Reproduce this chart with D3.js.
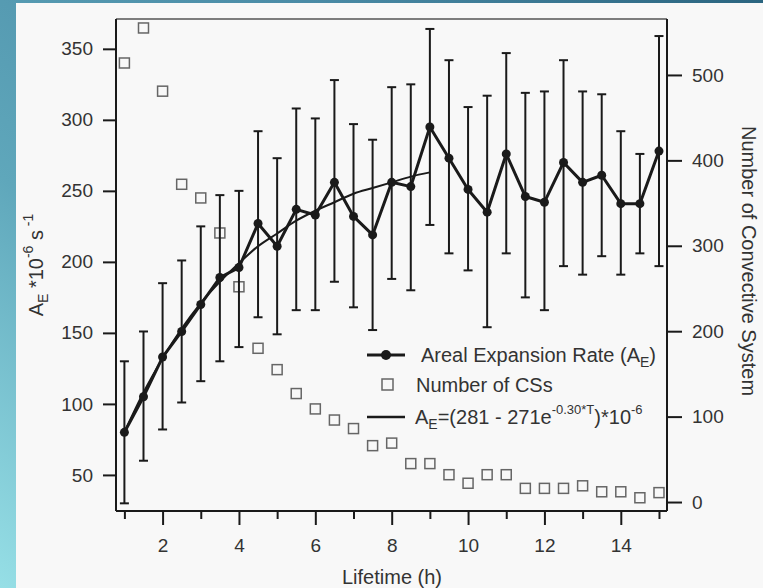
<!DOCTYPE html>
<html>
<head>
<meta charset="utf-8">
<script src="https://cdn.jsdelivr.net/npm/d3@7"></script>
<style>
  body { margin: 0; background: #fff; }
  svg { display: block; font-family: "Liberation Sans", Arial, sans-serif; }
</style>
</head>
<body>
<div id="chart"></div>
<script>
// 数据
const hours = [1, 1.5, 2, 2.5, 3, 3.5, 4, 4.5, 5, 5.5, 6, 6.5, 7, 7.5, 8, 8.5, 9, 9.5, 10, 10.5, 11, 11.5, 12, 12.5, 13, 13.5, 14, 14.5, 15];
const aeMean = [80, 105, 133, 151, 170, 189, 196, 227, 211, 237, 233, 256, 232, 219, 256, 253, 295, 273, 251, 235, 276, 246, 242, 270, 256, 261, 241, 241, 278];
const aeHigh = [130, 151, 185, 201, 225, 247, 250, 292, 273, 308, 301, 328, 297, 286, 323, 325, 364, 342, 309, 317, 347, 319, 320, 342, 320, 318, 292, 276, 359];
const aeLow = [30, 60, 82, 101, 116, 130, 140, 161, 149, 166, 166, 186, 168, 152, 188, 180, 226, 206, 194, 154, 206, 175, 166, 197, 191, 204, 191, 206, 197];
const csCount = [514, 555, 481, 372, 356, 315, 252, 180, 155, 127, 109, 96, 86, 66, 69, 45, 45, 32, 22, 32, 32, 16, 16, 16, 19, 12, 12, 5, 11];

// 拟合曲线
const fitHours = [1, 1.5, 2, 2.5, 3, 3.5, 4, 4.5, 5, 5.5, 6, 6.5, 7, 7.5, 8, 8.5, 9];
const fitValues = [80, 108, 132, 153, 171, 186, 199, 211, 220, 229, 236, 242, 248, 252, 256, 260, 263];

// 刻度
const xMajorTicks = [2, 4, 6, 8, 10, 12, 14];
const xMinorTicks = [1, 3, 5, 7, 9, 11, 13, 15];
const yLeftTicks = [50, 100, 150, 200, 250, 300, 350];
const yRightTicks = [0, 100, 200, 300, 400, 500];

const width = 763, height = 588;
const plot = { left: 116, right: 667, top: 19, bottom: 511 };

const svg = d3.select('#chart').append('svg')
    .attr('width', width)
    .attr('height', height);

// 背景
const defs = svg.append('defs');
const grad = defs.append('linearGradient')
    .attr('id', 'bg')
    .attr('x1', 0).attr('y1', 1).attr('x2', 1).attr('y2', 0);
grad.append('stop').attr('offset', '0%').attr('stop-color', '#96dfe6');
grad.append('stop').attr('offset', '35%').attr('stop-color', '#5fa7bb');
grad.append('stop').attr('offset', '70%').attr('stop-color', '#4a8ba6');
grad.append('stop').attr('offset', '100%').attr('stop-color', '#2b6580');

svg.append('rect').attr('width', width).attr('height', height).attr('fill', 'url(#bg)');
svg.append('rect')
    .attr('x', 16).attr('y', 3)
    .attr('width', width - 16).attr('height', height - 3)
    .attr('fill', '#f8f8f8');

// 比例尺
const x = d3.scaleLinear().domain([0.78, 15.21]).range([plot.left, plot.right]);
const yL = d3.scaleLinear().domain([24.6, 371]).range([plot.bottom, plot.top]);
const yR = d3.scaleLinear().domain([-10.5, 565.5]).range([plot.bottom, plot.top]);

const ink = '#1a1a1a';
const textColor = '#333';

// 坐标框
svg.append('line')
    .attr('x1', plot.left).attr('x2', plot.right)
    .attr('y1', plot.top).attr('y2', plot.top)
    .attr('stroke', '#555').attr('stroke-width', 1.5);
svg.append('line')
    .attr('x1', plot.left).attr('x2', plot.right)
    .attr('y1', plot.bottom).attr('y2', plot.bottom)
    .attr('stroke', ink).attr('stroke-width', 2);
svg.append('line')
    .attr('x1', plot.left).attr('x2', plot.left)
    .attr('y1', plot.top).attr('y2', plot.bottom)
    .attr('stroke', ink).attr('stroke-width', 2);
svg.append('line')
    .attr('x1', plot.right).attr('x2', plot.right)
    .attr('y1', plot.top).attr('y2', plot.bottom)
    .attr('stroke', ink).attr('stroke-width', 2);

// 坐标轴
function styleAxis(g) {
    g.select('.domain').remove();
    g.selectAll('.tick line').attr('stroke', ink).attr('stroke-width', 2);
    g.selectAll('.tick text')
        .attr('fill', textColor)
        .style('font-size', '19px')
        .style('font-family', '"Liberation Sans", Arial, sans-serif');
}

svg.append('g')
    .attr('transform', `translate(0,${plot.bottom})`)
    .call(d3.axisBottom(x).tickValues(xMajorTicks).tickSize(14).tickPadding(14).tickFormat(d3.format('d')))
    .call(styleAxis);
svg.append('g')
    .attr('transform', `translate(0,${plot.bottom})`)
    .call(d3.axisBottom(x).tickValues(xMinorTicks).tickSize(8).tickFormat(''))
    .call(styleAxis);
svg.append('g')
    .attr('transform', `translate(${plot.left},0)`)
    .call(d3.axisLeft(yL).tickValues(yLeftTicks).tickSize(13).tickPadding(10))
    .call(styleAxis);
svg.append('g')
    .attr('transform', `translate(${plot.right},0)`)
    .call(d3.axisRight(yR).tickValues(yRightTicks).tickSize(15).tickPadding(10))
    .call(styleAxis);

// 方块：对流系统个数
svg.append('g')
    .selectAll('rect')
    .data(hours)
    .enter()
    .append('rect')
    .attr('x', d => x(d) - 5)
    .attr('y', (d, i) => yR(csCount[i]) - 5)
    .attr('width', 10)
    .attr('height', 10)
    .attr('fill', 'none')
    .attr('stroke', '#666')
    .attr('stroke-width', 1.5);

// 误差棒
const err = svg.append('g').attr('stroke', ink).attr('stroke-width', 2);
hours.forEach((h, i) => {
    const cx = x(h);
    err.append('line').attr('x1', cx).attr('x2', cx).attr('y1', yL(aeLow[i])).attr('y2', yL(aeHigh[i]));
    err.append('line').attr('x1', cx - 4.5).attr('x2', cx + 4.5).attr('y1', yL(aeLow[i])).attr('y2', yL(aeLow[i]));
    err.append('line').attr('x1', cx - 4.5).attr('x2', cx + 4.5).attr('y1', yL(aeHigh[i])).attr('y2', yL(aeHigh[i]));
});

// 拟合曲线
svg.append('path')
    .datum(fitHours)
    .attr('fill', 'none')
    .attr('stroke', ink)
    .attr('stroke-width', 2)
    .attr('d', d3.line().x(d => x(d)).y((d, i) => yL(fitValues[i])).curve(d3.curveMonotoneX));

// 扩展率折线
svg.append('path')
    .datum(hours)
    .attr('fill', 'none')
    .attr('stroke', ink)
    .attr('stroke-width', 3)
    .attr('stroke-linejoin', 'round')
    .attr('d', d3.line().x(d => x(d)).y((d, i) => yL(aeMean[i])));

svg.append('g')
    .selectAll('circle')
    .data(hours)
    .enter()
    .append('circle')
    .attr('cx', d => x(d))
    .attr('cy', (d, i) => yL(aeMean[i]))
    .attr('r', 4.5)
    .attr('fill', ink);

// 图例
const legend = svg.append('g').attr('fill', textColor).style('font-size', '20px');
legend.append('line').attr('x1', 367).attr('x2', 405).attr('y1', 355).attr('y2', 355)
    .attr('stroke', ink).attr('stroke-width', 3);
legend.append('circle').attr('cx', 386).attr('cy', 355).attr('r', 5).attr('fill', ink);
const t1 = legend.append('text').attr('x', 421).attr('y', 362);
t1.append('tspan').text('Areal Expansion Rate (A');
t1.append('tspan').attr('dy', 5).style('font-size', '14px').text('E');
t1.append('tspan').attr('dy', -5).text(')');

legend.append('rect').attr('x', 382).attr('y', 379).attr('width', 11).attr('height', 11)
    .attr('fill', 'none').attr('stroke', '#666').attr('stroke-width', 1.5);
legend.append('text').attr('x', 416).attr('y', 392).text('Number of CSs');

legend.append('line').attr('x1', 367).attr('x2', 405).attr('y1', 417).attr('y2', 417)
    .attr('stroke', ink).attr('stroke-width', 2.5);
const t3 = legend.append('text').attr('x', 415).attr('y', 424);
t3.append('tspan').text('A');
t3.append('tspan').attr('dy', 5).style('font-size', '14px').text('E');
t3.append('tspan').attr('dy', -5).text('=(281 - 271e');
t3.append('tspan').attr('dy', -10).style('font-size', '13px').text('-0.30*T');
t3.append('tspan').attr('dy', 10).text(')*10');
t3.append('tspan').attr('dy', -10).style('font-size', '13px').text('-6');

// 轴标题
svg.append('text')
    .attr('x', 392).attr('y', 584)
    .attr('text-anchor', 'middle')
    .attr('fill', textColor)
    .style('font-size', '20px')
    .text('Lifetime (h)');

const yTitle = svg.append('text')
    .attr('transform', 'translate(43,265) rotate(-90)')
    .attr('text-anchor', 'middle')
    .attr('fill', textColor)
    .style('font-size', '20px');
yTitle.append('tspan').text('A');
yTitle.append('tspan').attr('dy', 5).style('font-size', '14px').text('E');
yTitle.append('tspan').attr('dy', -5).text(' *10');
yTitle.append('tspan').attr('dy', -10).style('font-size', '14px').text('-6');
yTitle.append('tspan').attr('dy', 10).text(' s');
yTitle.append('tspan').attr('dy', -10).style('font-size', '14px').text(' -1');

svg.append('text')
    .attr('transform', 'translate(742,261) rotate(90)')
    .attr('text-anchor', 'middle')
    .attr('fill', textColor)
    .style('font-size', '20px')
    .text('Number of Convective System');
</script>
</body>
</html>
